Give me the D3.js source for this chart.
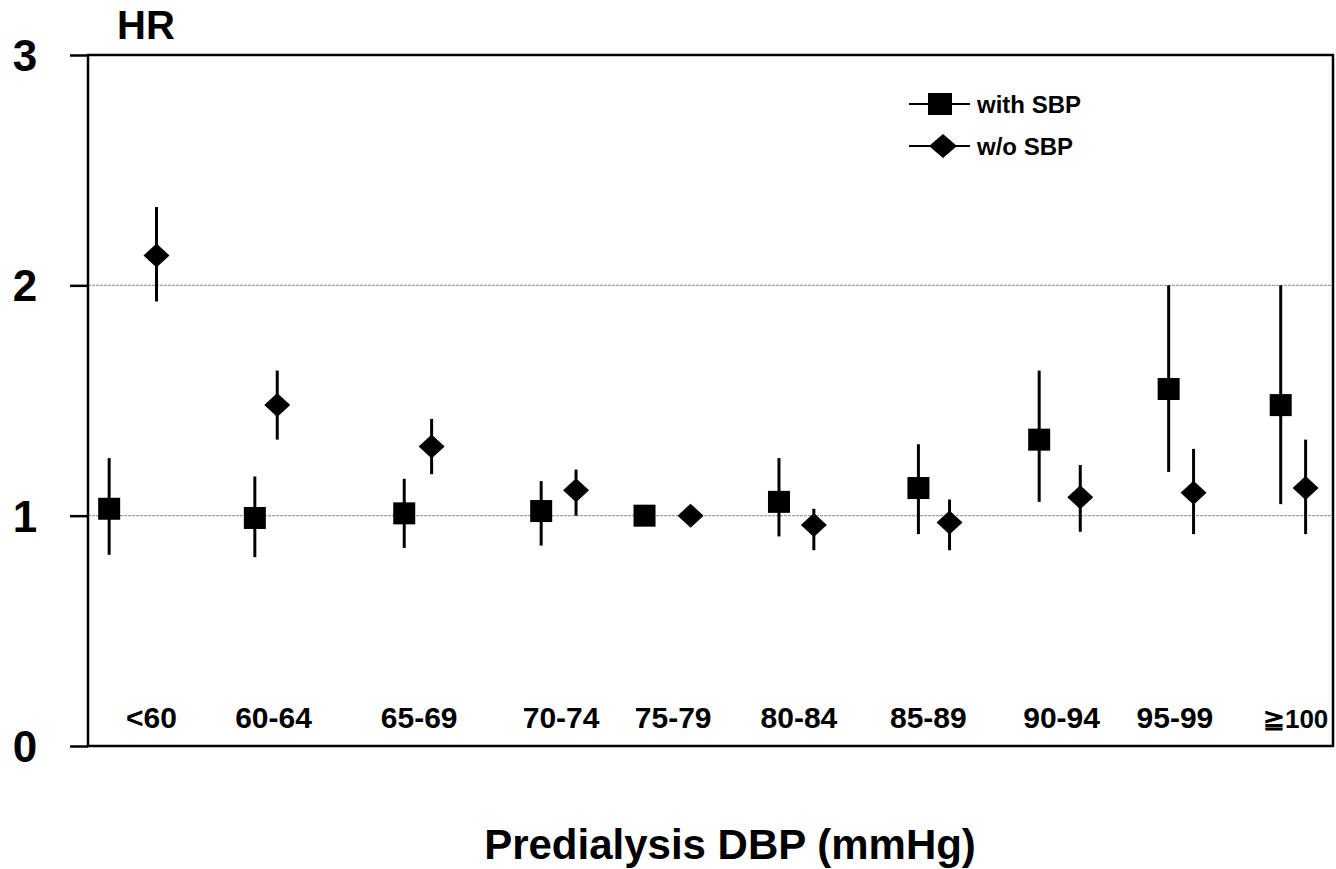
<!DOCTYPE html>
<html>
<head>
<meta charset="utf-8">
<script src="https://cdn.jsdelivr.net/npm/d3@7"></script>
<style>
  body { margin: 0; background: #fff; }
  text { font-family: "Liberation Sans", Arial, sans-serif; font-weight: bold; fill: #000; }
</style>
</head>
<body>
<div id="chart"></div>
<script>
// categories (predialysis DBP, mmHg) and where they sit on the hidden 0-100 x axis
let categories = ["<60", "60-64", "65-69", "70-74", "75-79", "80-84", "85-89", "90-94", "95-99", "\u2267100"]
let labelPos = [5.1, 14.9, 26.6, 38.0, 47.0, 57.1, 67.5, 78.2, 87.3, 97.0]

// with SBP (squares)
let withPos = [1.7, 13.4, 25.4, 36.4, 44.7, 55.5, 66.7, 76.4, 86.8, 95.8]
let withHR = [1.03, 0.99, 1.01, 1.02, 1.00, 1.06, 1.12, 1.33, 1.55, 1.48]
let withLo = [0.83, 0.82, 0.86, 0.87, null, 0.91, 0.92, 1.06, 1.19, 1.05]
let withHi = [1.25, 1.17, 1.16, 1.15, null, 1.25, 1.31, 1.63, 2.00, 2.00]

// w/o SBP (diamonds)
let woPos = [5.5, 15.2, 27.6, 39.2, 48.4, 58.3, 69.2, 79.7, 88.8, 97.8]
let woHR = [2.13, 1.48, 1.30, 1.11, 1.00, 0.96, 0.97, 1.08, 1.10, 1.12]
let woLo = [1.93, 1.33, 1.18, 1.00, null, 0.85, 0.85, 0.93, 0.92, 0.92]
let woHi = [2.34, 1.63, 1.42, 1.20, null, 1.03, 1.07, 1.22, 1.29, 1.33]

let yTicks = [0, 1, 2, 3]
let gridValues = [1, 2]

let W = 1336, H = 869
let margin = {top: 55, right: 3, bottom: 123, left: 88}

let svg = d3.select("#chart").append("svg")
    .attr("width", W)
    .attr("height", H)

let x = d3.scaleLinear().domain([0, 100]).range([margin.left, W - margin.right])
let y = d3.scaleLinear().domain([0, 3]).range([H - margin.bottom, margin.top])

// gridlines
svg.selectAll(".grid")
    .data(gridValues)
    .enter().append("line")
    .attr("class", "grid")
    .attr("x1", x(0)).attr("x2", x(100))
    .attr("y1", d => y(d)).attr("y2", d => y(d))
    .attr("stroke", "#a0a0a0")
    .attr("stroke-width", 1.2)
    .attr("stroke-dasharray", "3,1")

// y axis with outward ticks
let yAxis = d3.axisLeft(y).tickValues(yTicks).tickSize(18).tickFormat("")
let gy = svg.append("g").attr("transform", `translate(${x(0)},0)`).call(yAxis)
gy.select(".domain").remove()
gy.selectAll(".tick line").attr("stroke", "#000").attr("stroke-width", 2.5)

svg.selectAll(".ylab")
    .data(yTicks)
    .enter().append("text")
    .attr("class", "ylab")
    .attr("x", 25)
    .attr("y", d => y(d) + 16)
    .attr("text-anchor", "middle")
    .style("font-size", "44px")
    .text(d => d)

// frame
svg.append("rect")
    .attr("x", x(0)).attr("y", y(3))
    .attr("width", x(100) - x(0)).attr("height", y(0) - y(3))
    .attr("fill", "none")
    .attr("stroke", "#000")
    .attr("stroke-width", 2.5)

svg.append("text")
    .attr("x", 146).attr("y", 39)
    .attr("text-anchor", "middle")
    .style("font-size", "40px")
    .text("HR")

// category labels; the last one is a bit smaller so it stays inside the frame
svg.selectAll(".xlab")
    .data(categories)
    .enter().append("text")
    .attr("class", "xlab")
    .attr("x", (d, i) => x(labelPos[i]))
    .attr("y", 728)
    .attr("text-anchor", "middle")
    .style("font-size", (d, i) => i === categories.length - 1 ? "26px" : "30px")
    .text(d => d)

svg.append("text")
    .attr("x", 730).attr("y", 859)
    .attr("text-anchor", "middle")
    .style("font-size", "42px")
    .text("Predialysis DBP (mmHg)")

// error bars
function whiskers(pos, lo, hi, cls) {
    svg.selectAll("." + cls)
        .data(pos.map((p, i) => ({p: p, lo: lo[i], hi: hi[i]})).filter(d => d.lo != null))
        .enter().append("line")
        .attr("class", cls)
        .attr("x1", d => x(d.p)).attr("x2", d => x(d.p))
        .attr("y1", d => y(d.lo)).attr("y2", d => y(d.hi))
        .attr("stroke", "#000")
        .attr("stroke-width", 3)
}
whiskers(withPos, withLo, withHi, "wb-with")
whiskers(woPos, woLo, woHi, "wb-wo")

let sq = 11
svg.selectAll(".sq")
    .data(withHR)
    .enter().append("rect")
    .attr("class", "sq")
    .attr("x", (d, i) => x(withPos[i]) - sq)
    .attr("y", d => y(d) - sq)
    .attr("width", sq * 2).attr("height", sq * 2)
    .attr("fill", "#000")

function diamond(cx, cy, hw, hh) {
    return `M${cx},${cy - hh}L${cx + hw},${cy}L${cx},${cy + hh}L${cx - hw},${cy}Z`
}
svg.selectAll(".dm")
    .data(woHR)
    .enter().append("path")
    .attr("class", "dm")
    .attr("d", (d, i) => diamond(x(woPos[i]), y(d), 13, 12))
    .attr("fill", "#000")

// legend
let legend = svg.append("g")
let legendItems = ["with SBP", "w/o SBP"]
legendItems.forEach((name, i) => {
    let cy = 104 + i * 42
    legend.append("line")
        .attr("x1", 909).attr("x2", 970)
        .attr("y1", cy).attr("y2", cy)
        .attr("stroke", "#000").attr("stroke-width", 2)
    if (i === 0) {
        legend.append("rect")
            .attr("x", 928).attr("y", cy - 11)
            .attr("width", 24).attr("height", 22)
            .attr("fill", "#000")
    } else {
        legend.append("path")
            .attr("d", diamond(943, cy, 14, 12))
            .attr("fill", "#000")
    }
    legend.append("text")
        .attr("x", 977).attr("y", cy + 9)
        .style("font-size", "24px")
        .text(name)
})
</script>
</body>
</html>
